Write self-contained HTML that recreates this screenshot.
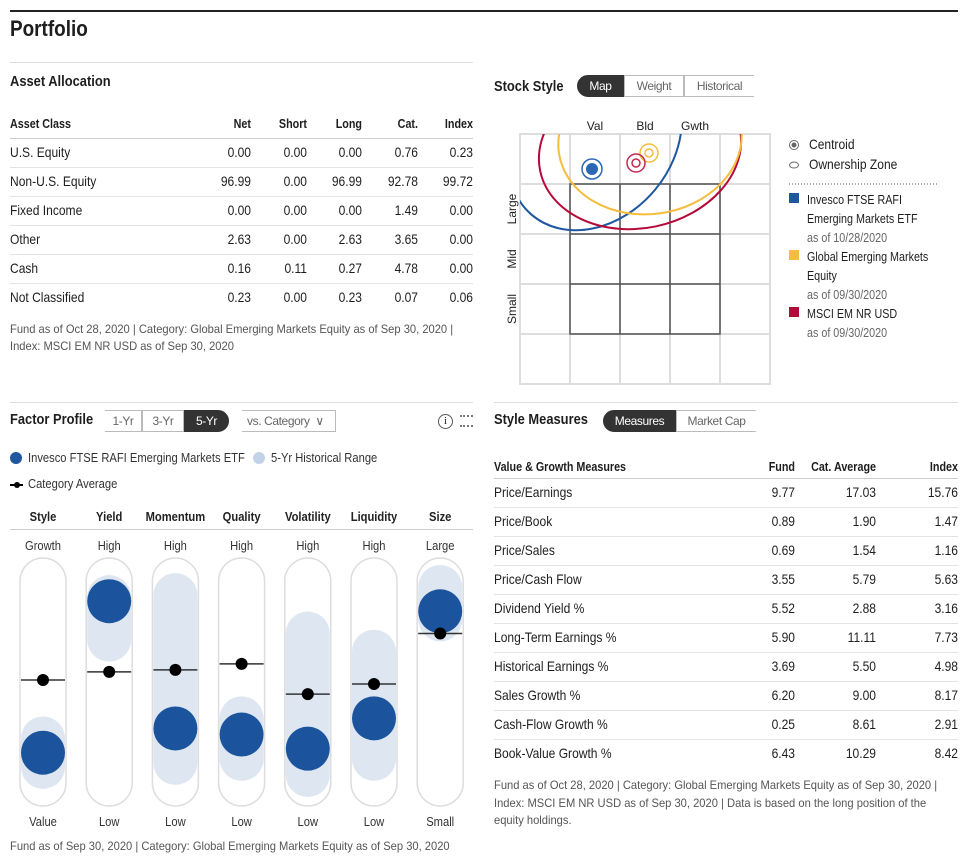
<!DOCTYPE html>
<html><head><meta charset="utf-8">
<style>
*{margin:0;padding:0;box-sizing:border-box}
body{width:970px;height:864px;background:#fff;font-family:"Liberation Sans",sans-serif;color:#1e1e1e;position:relative;overflow:hidden}
.a{position:absolute;white-space:nowrap}
.sx{transform:scaleX(.86);transform-origin:left center}
.fx{transform:scaleX(.93);transform-origin:left center}
.r{text-align:right;transform-origin:right center}
.b{font-weight:bold}
.h2{font-size:15px;font-weight:bold}
.t{font-size:14px}
.s{font-size:12px;color:#555}
.line{position:absolute;height:1px;background:#ddd}
.seg{position:absolute;height:22px;border:1px solid #bbb;font-size:12px;color:#666;text-align:center;line-height:20px;letter-spacing:-0.4px}
.on{background:#333;color:#fff;border-color:#333}
</style></head><body>
<div class="a" style="left:10px;top:10px;width:948px;height:2px;background:#222"></div>
<div class="a b sx" style="left:10px;top:16px;font-size:22px">Portfolio</div>
<div class="line" style="left:10px;top:62px;width:463px"></div>

<div class="a h2 sx" style="left:10px;top:73px">Asset Allocation</div>
<div id="aa"></div>
<div class="a s fx" style="left:10px;top:321px;line-height:17px">Fund as of Oct 28, 2020 | Category: Global Emerging Markets Equity as of Sep 30, 2020 |<br>Index: MSCI EM NR USD as of Sep 30, 2020</div>

<div class="a h2 sx" style="left:494px;top:78px">Stock Style</div>
<div class="seg on" style="left:577px;top:75px;width:47px;border-radius:11px 0 0 11px">Map</div>
<div class="seg" style="left:624px;top:75px;width:60px">Weight</div>
<div class="seg" style="left:684px;top:75px;width:70px;border-right:none">Historical</div>
<svg class="a" style="left:0;top:0" width="970" height="400">
<defs><clipPath id="cp"><rect x="520" y="134" width="250" height="250"/></clipPath></defs>
<g stroke="#ddd" stroke-width="2" fill="none">
<rect x="520" y="134" width="250" height="250"/>
<line x1="570" y1="134" x2="570" y2="384"/><line x1="620" y1="134" x2="620" y2="384"/><line x1="670" y1="134" x2="670" y2="384"/><line x1="720" y1="134" x2="720" y2="384"/>
<line x1="520" y1="184" x2="770" y2="184"/><line x1="520" y1="234" x2="770" y2="234"/><line x1="520" y1="284" x2="770" y2="284"/><line x1="520" y1="334" x2="770" y2="334"/>
</g>
<g stroke="#555" stroke-width="1.5" fill="none">
<rect x="570" y="184" width="150" height="150"/>
<line x1="620" y1="184" x2="620" y2="334"/><line x1="670" y1="184" x2="670" y2="334"/>
<line x1="570" y1="234" x2="720" y2="234"/><line x1="570" y1="284" x2="720" y2="284"/>
</g>
<g clip-path="url(#cp)" fill="none" stroke-width="2">
<ellipse cx="595" cy="140" rx="78" ry="98" stroke="#1f56a0" transform="rotate(40 595 140)"/>
<ellipse cx="640" cy="150" rx="102" ry="78" stroke="#b5093a" transform="rotate(-12 640 150)"/>
<ellipse cx="650" cy="140" rx="92" ry="74" stroke="#f5bd3d" transform="rotate(-8 650 140)"/>
</g>
<circle cx="592" cy="169" r="6" fill="#2c67b5"/><circle cx="592" cy="169" r="10" fill="none" stroke="#2c67b5" stroke-width="1.5"/>
<circle cx="649" cy="153" r="4" fill="none" stroke="#f5bd3d" stroke-width="1.5"/><circle cx="649" cy="153" r="9" fill="none" stroke="#f5bd3d" stroke-width="1.5"/>
<circle cx="636" cy="163" r="4" fill="none" stroke="#c7284f" stroke-width="1.5"/><circle cx="636" cy="163" r="9" fill="none" stroke="#c7284f" stroke-width="1.5"/>
<g font-family="Liberation Sans, sans-serif" font-size="12" fill="#222" text-anchor="middle">
<text x="595" y="130">Val</text><text x="645" y="130">Bld</text><text x="695" y="130">Gwth</text>
<text transform="translate(516 209) rotate(-90)">Large</text>
<text transform="translate(516 259) rotate(-90)">Mid</text>
<text transform="translate(516 309) rotate(-90)">Small</text>
</g>
<circle cx="794" cy="145" r="4.5" fill="none" stroke="#666"/><circle cx="794" cy="145" r="2.5" fill="#666"/>
<ellipse cx="794" cy="165" rx="4.5" ry="3" fill="none" stroke="#666"/>
<line x1="789" y1="184" x2="938" y2="184" stroke="#555" stroke-dasharray="1 2"/>
<rect x="789" y="193" width="10" height="10" fill="#1f56a0"/>
<rect x="789" y="250" width="10" height="10" fill="#f5bd3d"/>
<rect x="789" y="307" width="10" height="10" fill="#b5093a"/>
</svg>
<div class="a t sx" style="left:809px;top:136px">Centroid</div>
<div class="a t sx" style="left:809px;top:156px">Ownership Zone</div>
<div class="a sx" style="left:807px;top:191px;font-size:12.5px;line-height:19px">Invesco FTSE RAFI<br>Emerging Markets ETF<br><span style="color:#666">as of 10/28/2020</span></div>
<div class="a sx" style="left:807px;top:248px;font-size:12.5px;line-height:19px">Global Emerging Markets<br>Equity<br><span style="color:#666">as of 09/30/2020</span></div>
<div class="a sx" style="left:807px;top:305px;font-size:12.5px;line-height:19px">MSCI EM NR USD<br><span style="color:#666">as of 09/30/2020</span></div>

<div class="line" style="left:10px;top:402px;width:463px"></div>
<div class="a h2 sx" style="left:10px;top:411px">Factor Profile</div>
<div class="seg" style="left:105px;top:410px;width:37px;border-left:none">1-Yr</div>
<div class="seg" style="left:142px;top:410px;width:42px">3-Yr</div>
<div class="seg on" style="left:184px;top:410px;width:45px;border-radius:0 11px 11px 0">5-Yr</div>
<div class="seg" style="left:242px;top:410px;width:94px;border-left:none;text-align:left;padding-left:5px">vs. Category &nbsp;&#8744;</div>
<div class="a" style="left:438px;top:414px;width:15px;height:15px;border:1px solid #555;border-radius:50%;font-size:11px;text-align:center;line-height:13px;font-family:'Liberation Serif',serif">i</div>
<div class="a" style="left:460px;top:415px;width:13px;height:12px;border-top:2px dotted #777;border-bottom:2px dotted #777"></div>
<div class="a" style="left:10px;top:452px;width:12px;height:12px;border-radius:50%;background:#1f56a0"></div>
<div class="a sx" style="left:28px;top:450px;font-size:13px;color:#333">Invesco FTSE RAFI Emerging Markets ETF</div>
<div class="a" style="left:253px;top:452px;width:12px;height:12px;border-radius:50%;background:#c2d3e8"></div>
<div class="a sx" style="left:271px;top:450px;font-size:13px;color:#333">5-Yr Historical Range</div>
<div class="a" style="left:10px;top:484px;width:13px;height:2px;background:#000"></div>
<div class="a" style="left:14px;top:482px;width:6px;height:6px;border-radius:50%;background:#000"></div>
<div class="a sx" style="left:28px;top:476px;font-size:13px;color:#333">Category Average</div>
<div class="line" style="left:10px;top:529px;width:463px;background:#ccc"></div>
<svg id="fp" class="a" style="left:0;top:500px" width="480" height="340"></svg>
<div class="a s fx" style="left:10px;top:839px">Fund as of Sep 30, 2020 | Category: Global Emerging Markets Equity as of Sep 30, 2020</div>

<div class="line" style="left:494px;top:402px;width:464px"></div>
<div class="a h2 sx" style="left:494px;top:411px">Style Measures</div>
<div class="seg on" style="left:603px;top:410px;width:73px;border-radius:11px 0 0 11px">Measures</div>
<div class="seg" style="left:676px;top:410px;width:80px;border-right:none">Market Cap</div>
<div id="sm"></div>
<div class="a s fx" style="left:494px;top:777px;line-height:17.5px">Fund as of Oct 28, 2020 | Category: Global Emerging Markets Equity as of Sep 30, 2020 |<br>Index: MSCI EM NR USD as of Sep 30, 2020 | Data is based on the long position of the<br>equity holdings.</div>

<script>
const aaRows=["U.S. Equity","Non-U.S. Equity","Fixed Income","Other","Cash","Not Classified"];
const aaNet=["0.00","96.99","0.00","2.63","0.16","0.23"];
const aaShort=["0.00","0.00","0.00","0.00","0.11","0.00"];
const aaLong=["0.00","96.99","0.00","2.63","0.27","0.23"];
const aaCat=["0.76","92.78","1.49","3.65","4.78","0.07"];
const aaIndex=["0.23","99.72","0.00","0.00","0.00","0.06"];
const aaHead=["Net","Short","Long","Cat.","Index"];
const aaRight=[251,307,362,418,473];
const smRows=["Price/Earnings","Price/Book","Price/Sales","Price/Cash Flow","Dividend Yield %","Long-Term Earnings %","Historical Earnings %","Sales Growth %","Cash-Flow Growth %","Book-Value Growth %"];
const smFund=["9.77","0.89","0.69","3.55","5.52","5.90","3.69","6.20","0.25","6.43"];
const smCat=["17.03","1.90","1.54","5.79","2.88","11.11","5.50","9.00","8.61","10.29"];
const smIndex=["15.76","1.47","1.16","5.63","3.16","7.73","4.98","8.17","2.91","8.42"];
const smHead=["Fund","Cat. Average","Index"];
const smRight=[795,876,958];
const factors=["Style","Yield","Momentum","Quality","Volatility","Liquidity","Size"];
const topLbl=["Growth","High","High","High","High","High","Large"];
const botLbl=["Value","Low","Low","Low","Low","Low","Small"];
const fundVal=[15,90,27,24,17,32,85];
const catAvg=[51,55,56,59,44,49,74];
const rangeLo=[8,71,10,12,4,12,81];
const rangeHi=[22,92,93,32,74,65,97];

function div(cls,style,txt){const d=document.createElement('div');d.className='a sx '+cls;d.style.cssText=style;d.textContent=txt;document.body.appendChild(d);return d;}
let h=div('b','left:10px;top:117px;font-size:12.5px','Asset Class');


aaHead.forEach((t,i)=>{const d=div('b r','left:'+(aaRight[i]-60)+'px;width:60px;top:117px;font-size:12.5px',t);

});
const aaCols=[aaNet,aaShort,aaLong,aaCat,aaIndex];
aaRows.forEach((r,j)=>{const y=144+j*29;
const ln=div('line','left:10px;top:'+(y-6)+'px;width:463px;height:1px;transform:none;background:'+(j==0?'#ccc':'#e3e3e3'),'');


const l=div('t','left:10px;top:'+y+'px',r);


aaCols.forEach((c,i)=>{const d=div('t r','left:'+(aaRight[i]-60)+'px;width:60px;top:'+y+'px',c[j]);

});});
h=div('b','left:494px;top:460px;font-size:12.5px','Value & Growth Measures');


smHead.forEach((t,i)=>{const d=div('b r','left:'+(smRight[i]-90)+'px;width:90px;top:460px;font-size:12.5px',t);

});
const smCols=[smFund,smCat,smIndex];
smRows.forEach((r,j)=>{const y=484+j*29;
const ln=div('line','left:494px;top:'+(y-6)+'px;width:464px;height:1px;transform:none;background:'+(j==0?'#ccc':'#e3e3e3'),'');


const l=div('t','left:494px;top:'+y+'px',r);


smCols.forEach((c,i)=>{const d=div('t r','left:'+(smRight[i]-90)+'px;width:90px;top:'+y+'px',c[j]);

});});
const svg=document.getElementById('fp');const NS='http://www.w3.org/2000/svg';
function el(t,a){const e=document.createElementNS(NS,t);for(const k in a)e.setAttribute(k,a[k]);svg.appendChild(e);return e;}
const xC=i=>43+i*66.2;
const yV=v=>283-v*2.02;
const R=22;
const FF='Liberation Sans, sans-serif';
factors.forEach((f,i)=>{const x=xC(i);
let t=el('text',{x:0,y:0,transform:'translate('+x+' 21) scale(.86 1)','text-anchor':'middle','font-weight':'bold','font-size':13,'font-family':FF,fill:'#222'});t.textContent=f;


t=el('text',{x:0,y:0,transform:'translate('+x+' 50) scale(.86 1)','text-anchor':'middle','font-size':13,'font-family':FF,fill:'#333'});t.textContent=topLbl[i];


t=el('text',{x:0,y:0,transform:'translate('+x+' 326) scale(.86 1)','text-anchor':'middle','font-size':13,'font-family':FF,fill:'#333'});t.textContent=botLbl[i];


const p=el('rect',{x:x-23,y:58,width:46,height:248,rx:23,fill:'#fff',stroke:'#ddd','stroke-width':1.5});


const yh=yV(rangeHi[i]),yl=yV(rangeLo[i]);
const rg=el('rect',{x:x-R,y:yh-R,width:2*R,height:yl-yh+2*R,rx:R,fill:'#dde6f1'});


const fc=el('circle',{cx:x,cy:yV(fundVal[i]),r:R,fill:'#1b549c'});


const yc=yV(catAvg[i]);
const cl=el('line',{x1:x-22,x2:x+22,y1:yc,y2:yc,stroke:'#333','stroke-width':1.5});


const cd=el('circle',{cx:x,cy:yc,r:6,fill:'#000'});


});
</script>
</body></html>
